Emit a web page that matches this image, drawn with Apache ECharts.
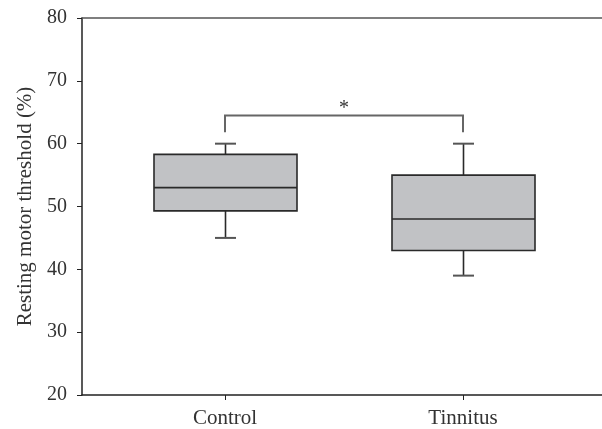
<!DOCTYPE html>
<html>
<head>
<meta charset="utf-8">
<script src="https://cdn.jsdelivr.net/npm/echarts@6/dist/echarts.min.js"></script>
<style>
  html, body { margin: 0; padding: 0; background: #fff; }
  #chart { width: 602px; height: 429px; }
</style>
</head>
<body>
<div id="chart"></div>
<script>
// ---- data ----
var categories = ['Control', 'Tinnitus'];
var positions = [1, 2];
var whiskerLow = [45, 39];
var q1 = [49.3, 43];
var median = [53, 48];
var q3 = [58.3, 55];
var whiskerHigh = [60, 60];
var yTicks = [20, 30, 40, 50, 60, 70, 80];

// significance bracket between the two groups
var bracketTop = 64.5;
var bracketFoot = 61.8;
var starLevel = 65.6;
var starText = '*';

var FONT = '"Liberation Serif", "DejaVu Serif", serif';
var BOX_WIDTH = 143;
var CAP_WIDTH = 21;

var boxData = positions.map(function (p, i) {
  return [p, whiskerLow[i], q1[i], median[i], q3[i], whiskerHigh[i]];
});

function renderBox(params, api) {
  var x = api.value(0);
  var low = api.coord([x, api.value(1)]);
  var b1 = api.coord([x, api.value(2)]);
  var mid = api.coord([x, api.value(3)]);
  var b3 = api.coord([x, api.value(4)]);
  var high = api.coord([x, api.value(5)]);
  var cx = Math.round(low[0]) + 0.5;
  var half = BOX_WIDTH / 2;
  var cap = CAP_WIDTH / 2;
  var whiskerStyle = { stroke: '#2a2a2a', lineWidth: 1.6 };
  var capStyle = { stroke: '#555', lineWidth: 2 };
  return {
    type: 'group',
    children: [
      { type: 'line', shape: { x1: cx, y1: b3[1], x2: cx, y2: high[1] }, style: whiskerStyle },
      { type: 'line', shape: { x1: cx, y1: b1[1], x2: cx, y2: low[1] }, style: whiskerStyle },
      { type: 'line', shape: { x1: cx - cap, y1: high[1], x2: cx + cap, y2: high[1] }, style: capStyle },
      { type: 'line', shape: { x1: cx - cap, y1: low[1], x2: cx + cap, y2: low[1] }, style: capStyle },
      {
        type: 'rect',
        shape: { x: cx - half, y: b3[1], width: BOX_WIDTH, height: b1[1] - b3[1] },
        style: { fill: '#c1c2c5', stroke: '#2a2a2a', lineWidth: 1.6 }
      },
      { type: 'line', shape: { x1: cx - half, y1: mid[1], x2: cx + half, y2: mid[1] }, style: { stroke: '#2a2a2a', lineWidth: 1.6 } }
    ]
  };
}

function renderBracket(params, api) {
  var a = api.coord([positions[0], bracketFoot]);
  var b = api.coord([positions[0], bracketTop]);
  var c = api.coord([positions[1], bracketTop]);
  var d = api.coord([positions[1], bracketFoot]);
  var s = api.coord([(positions[0] + positions[1]) / 2, starLevel]);
  return {
    type: 'group',
    children: [
      {
        type: 'polyline',
        shape: { points: [a, b, c, d] },
        style: { stroke: '#666', lineWidth: 2, fill: null }
      },
      {
        type: 'text',
        x: s[0], y: s[1],
        style: { text: starText, font: '20px ' + FONT, fill: '#333', align: 'center', verticalAlign: 'middle' }
      }
    ]
  };
}

var chart = echarts.init(document.getElementById('chart'));
chart.setOption({
  backgroundColor: '#fff',
  animation: false,
  grid: { left: 82, top: 18, right: 0, bottom: 34 },
  xAxis: [{
    type: 'value',
    min: 0.3992,
    max: 2.584,
    axisLine: { show: true, lineStyle: { color: '#222', width: 1.5 } },
    axisTick: { show: true, customValues: positions, length: 5, lineStyle: { color: '#222' } },
    axisLabel: {
      customValues: positions,
      margin: 13,
      fontFamily: FONT,
      fontSize: 21,
      color: '#333',
      formatter: function (v) { return categories[positions.indexOf(Math.round(v))] || ''; }
    },
    splitLine: { show: false }
  }, {
    // plain frame line along the top of the plot
    type: 'value',
    position: 'top',
    min: 0,
    max: 1,
    axisLine: { show: true, onZero: false, lineStyle: { color: '#555', width: 1.5 } },
    axisTick: { show: false },
    axisLabel: { show: false },
    splitLine: { show: false }
  }],
  yAxis: {
    type: 'value',
    min: yTicks[0],
    max: yTicks[yTicks.length - 1],
    interval: 10,
    name: 'Resting motor threshold (%)',
    nameLocation: 'middle',
    nameGap: 46,
    nameTextStyle: { fontFamily: FONT, fontSize: 21, color: '#333' },
    axisLine: { show: true, lineStyle: { color: '#222', width: 1.5 } },
    axisTick: { show: true, length: 5, lineStyle: { color: '#222' } },
    axisLabel: { margin: 15, fontFamily: FONT, fontSize: 20, color: '#333' },
    splitLine: { show: false }
  },
  series: [
    {
      type: 'custom',
      renderItem: renderBox,
      encode: { x: 0, y: [1, 2, 3, 4, 5] },
      data: boxData,
      silent: true
    },
    {
      type: 'custom',
      renderItem: renderBracket,
      data: [[positions[0], bracketTop]],
      silent: true
    }
  ]
});
</script>
</body>
</html>
